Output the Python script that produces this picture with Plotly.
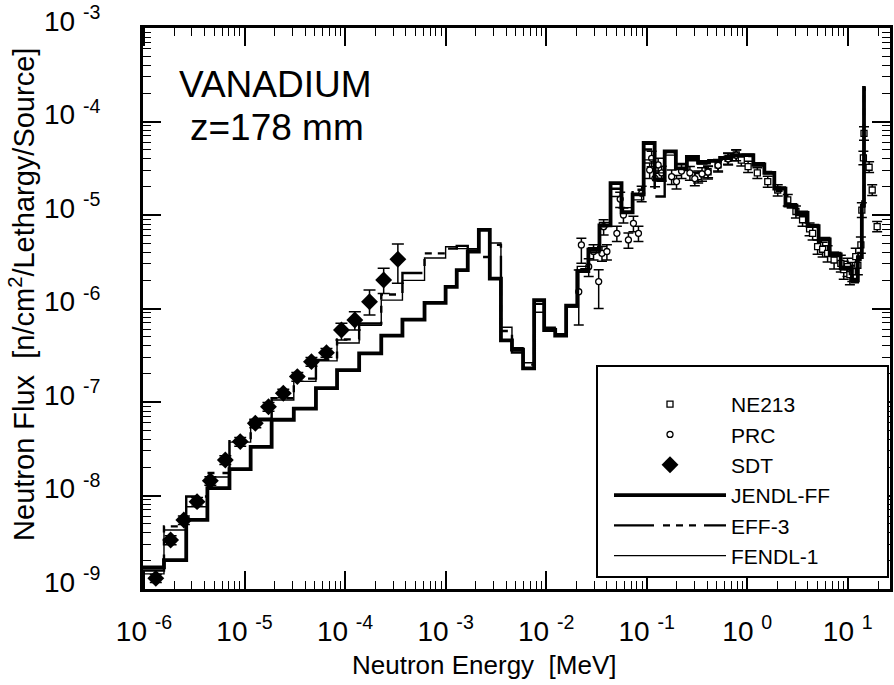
import plotly.graph_objects as go

# ---------------- data ----------------
# group-structure bin edges (MeV) of the calculated spectra
EDGES = [9.1e-7, 1.58e-6, 2.63e-6, 4.27e-6, 7.08e-6, 1.15e-5, 1.86e-5, 3.09e-5, 5.13e-5, 8.32e-5,
         1.38e-4, 2.29e-4, 3.72e-4, 6.17e-4, 1.00e-3, 1.29e-3, 1.66e-3, 2.14e-3, 2.75e-3, 3.55e-3,
         4.57e-3, 5.89e-3, 7.59e-3, 9.55e-3, 1.23e-2, 1.58e-2, 2.04e-2, 2.63e-2, 3.39e-2, 4.37e-2,
         5.62e-2, 7.24e-2, 9.33e-2, 0.120, 0.151, 0.195, 0.251, 0.324, 0.417, 0.537,
         0.692, 0.891, 1.15, 1.48, 1.86, 2.40, 3.09, 3.98, 5.13, 6.61,
         8.51, 11.0, 12.6, 13.8, 14.5, 15.1]

JENDL_FF = [1.70e-9, 2.04e-9, 5.50e-9, 1.20e-8, 1.91e-8, 3.31e-8, 6.46e-8, 8.51e-8, 1.41e-7, 2.19e-7,
            3.31e-7, 5.13e-7, 7.59e-7, 1.15e-6, 1.70e-6, 2.57e-6, 4.07e-6, 6.92e-6, 2.09e-6, 4.57e-7,
            3.63e-7, 2.29e-7, 1.23e-6, 5.89e-7, 5.13e-7, 1.07e-6, 2.51e-6, 4.27e-6, 7.76e-6, 2.19e-5,
            1.07e-5, 1.66e-5, 5.89e-5, 2.40e-5, 4.79e-5, 3.16e-5, 4.17e-5, 3.63e-5, 3.80e-5, 4.07e-5,
            4.37e-5, 4.37e-5, 3.47e-5, 2.82e-5, 1.91e-5, 1.26e-5, 1.05e-5, 7.59e-6, 5.50e-6, 3.80e-6,
            2.69e-6, 2.00e-6, 3.55e-6, 1.26e-5, 2.29e-4]

EFF_3 = [1.58e-9, 4.68e-9, 9.77e-9, 1.74e-8, 3.98e-8, 6.61e-8, 1.10e-7, 1.78e-7, 2.82e-7, 4.68e-7,
         6.92e-7, 1.41e-6, 2.40e-6, 3.89e-6, 4.37e-6, 4.68e-6, 4.17e-6, 3.55e-6, 4.79e-6, 5.75e-7,
         3.39e-7, 2.51e-7, 1.12e-6, 6.03e-7, 5.25e-7, 1.05e-6, 2.63e-6, 3.98e-6, 7.59e-6, 1.91e-5,
         1.12e-5, 1.86e-5, 5.01e-5, 1.58e-5, 4.68e-5, 3.02e-5, 3.98e-5, 3.55e-5, 3.89e-5, 4.17e-5,
         4.37e-5, 4.27e-5, 3.39e-5, 2.88e-5, 1.82e-5, 1.20e-5, 1.00e-5, 7.41e-6, 5.25e-6, 3.63e-6,
         2.63e-6, 1.91e-6, 3.31e-6, 1.12e-5, 2.19e-4]

FENDL_1 = [1.45e-9, 4.27e-9, 7.59e-9, 1.58e-8, 3.72e-8, 6.31e-8, 1.05e-7, 1.66e-7, 2.75e-7, 4.27e-7,
           6.61e-7, 1.23e-6, 2.00e-6, 3.47e-6, 4.57e-6, 4.37e-6, 4.37e-6, 6.92e-6, 5.01e-6, 6.31e-7,
           3.80e-7, 2.63e-7, 9.12e-7, 6.31e-7, 5.37e-7, 1.10e-6, 2.82e-6, 4.47e-6, 8.32e-6, 1.58e-5,
           1.20e-5, 1.45e-5, 3.89e-5, 2.82e-5, 4.37e-5, 3.55e-5, 3.80e-5, 3.80e-5, 3.72e-5, 3.98e-5,
           4.27e-5, 4.47e-5, 3.63e-5, 2.75e-5, 2.00e-5, 1.32e-5, 1.10e-5, 7.94e-6, 5.75e-6, 3.98e-6,
           2.82e-6, 2.09e-6, 3.98e-6, 1.41e-5, 2.29e-4]

# SDT measurement (diamonds)
SDT_E = [1.31e-6, 1.84e-6, 2.49e-6, 3.37e-6, 4.57e-6, 6.44e-6, 9.06e-6, 1.28e-5, 1.73e-5,
         2.43e-5, 3.35e-5, 4.63e-5, 6.53e-5, 9.20e-5, 1.25e-4, 1.75e-4, 2.42e-4, 3.35e-4]
SDT_F = [1.30e-9, 3.34e-9, 5.47e-9, 8.59e-9, 1.44e-8, 2.40e-8, 3.77e-8, 5.92e-8, 8.91e-8,
         1.24e-7, 1.87e-7, 2.70e-7, 3.37e-7, 5.89e-7, 7.53e-7, 1.18e-6, 2.02e-6, 3.36e-6]
SDT_HI = [1.43e-9, 3.70e-9, 6.05e-9, 9.50e-9, 1.59e-8, 2.66e-8, 4.17e-8, 6.55e-8, 9.85e-8,
          1.37e-7, 2.07e-7, 2.99e-7, 3.73e-7, 6.95e-7, 9.25e-7, 1.58e-6, 2.69e-6, 4.90e-6]
SDT_LO = [1.17e-9, 2.98e-9, 4.89e-9, 7.68e-9, 1.29e-8, 2.14e-8, 3.37e-8, 5.29e-8, 7.97e-8,
          1.11e-7, 1.67e-7, 2.41e-7, 3.01e-7, 4.60e-7, 5.89e-7, 8.51e-7, 1.45e-6, 1.86e-6]

# PRC measurement (small circles)
PRC_E = [2.11e-2, 2.24e-2, 2.65e-2, 2.96e-2, 3.33e-2, 3.59e-2, 3.73e-2, 4.02e-2, 5.05e-2, 5.45e-2,
         5.87e-2, 6.58e-2, 7.38e-2, 8.28e-2, 8.91e-2, 0.107, 0.112, 0.121, 0.130, 0.141,
         0.177, 0.198, 0.222, 0.269, 0.301, 0.355, 0.407, 0.513, 0.646, 0.776]
PRC_F = [1.51e-6, 4.78e-6, 2.80e-6, 4.07e-6, 1.94e-6, 3.89e-6, 7.50e-6, 4.07e-6, 6.37e-6, 1.48e-5,
         1.00e-5, 5.41e-6, 8.15e-6, 6.37e-6, 1.71e-5, 3.03e-5, 4.04e-5, 2.47e-5, 3.43e-5, 2.82e-5,
         2.57e-5, 2.28e-5, 2.95e-5, 2.82e-5, 2.45e-5, 2.75e-5, 2.88e-5, 3.39e-5, 3.98e-5, 4.37e-5]
PRC_HI = [2.58e-6, 5.64e-6, 3.40e-6, 4.80e-6, 2.60e-6, 4.60e-6, 8.90e-6, 4.80e-6, 7.60e-6, 1.75e-5,
          1.19e-5, 6.40e-6, 9.70e-6, 7.60e-6, 2.03e-5, 3.60e-5, 4.80e-5, 2.95e-5, 4.05e-5, 3.33e-5,
          3.03e-5, 2.65e-5, 3.45e-5, 3.30e-5, 2.86e-5, 3.20e-5, 3.35e-5, 3.90e-5, 4.55e-5, 4.95e-5]
PRC_LO = [6.67e-7, 3.04e-6, 2.20e-6, 3.30e-6, 1.00e-6, 3.20e-6, 6.10e-6, 3.30e-6, 5.20e-6, 1.20e-5,
          8.20e-6, 4.40e-6, 6.60e-6, 5.20e-6, 1.39e-5, 2.46e-5, 3.28e-5, 2.00e-5, 2.80e-5, 2.30e-5,
          2.12e-5, 1.90e-5, 2.45e-5, 2.35e-5, 2.05e-5, 2.30e-5, 2.42e-5, 2.88e-5, 3.42e-5, 3.80e-5]

# NE213 measurement (small squares)
NE_E = [0.325, 0.408, 0.513, 0.644, 0.778, 0.873, 1.02, 1.26, 1.60, 2.01,
        2.53, 3.05, 3.55, 4.17, 4.47, 5.01, 5.62, 6.30, 7.31, 8.53,
        9.12, 9.93, 10.5, 11.1, 12.0, 12.6, 13.5, 13.8, 14.3, 14.5,
        16.3, 17.5, 19.6]
NE_F = [2.57e-5, 2.90e-5, 3.43e-5, 4.04e-5, 4.39e-5, 3.87e-5, 3.29e-5, 2.82e-5, 2.28e-5, 1.85e-5,
        1.45e-5, 1.09e-5, 8.90e-6, 7.10e-6, 6.37e-6, 4.58e-6, 4.30e-6, 3.89e-6, 3.30e-6, 3.04e-6,
        2.60e-6, 2.80e-6, 2.30e-6, 2.48e-6, 3.58e-6, 2.90e-6, 4.78e-6, 1.13e-5, 4.09e-5, 7.48e-5,
        3.24e-5, 1.85e-5, 7.50e-6]
NE_HI = [2.95e-5, 3.30e-5, 3.90e-5, 4.60e-5, 5.00e-5, 4.40e-5, 3.75e-5, 3.20e-5, 2.60e-5, 2.10e-5,
         1.66e-5, 1.25e-5, 1.02e-5, 8.20e-6, 7.40e-6, 5.40e-6, 5.10e-6, 4.70e-6, 4.00e-6, 3.70e-6,
         3.20e-6, 3.45e-6, 2.90e-6, 3.10e-6, 4.40e-6, 3.60e-6, 5.80e-6, 1.35e-5, 4.80e-5, 8.80e-5,
         3.70e-5, 2.10e-5, 8.50e-6]
NE_LO = [2.20e-5, 2.50e-5, 2.95e-5, 3.50e-5, 3.80e-5, 3.35e-5, 2.85e-5, 2.45e-5, 1.98e-5, 1.60e-5,
         1.25e-5, 9.30e-6, 7.60e-6, 6.00e-6, 5.40e-6, 3.80e-6, 3.55e-6, 3.15e-6, 2.65e-6, 2.45e-6,
         2.05e-6, 2.20e-6, 1.80e-6, 1.95e-6, 2.85e-6, 2.30e-6, 3.90e-6, 9.40e-6, 3.45e-5, 6.30e-5,
         2.85e-5, 1.62e-5, 6.60e-6]

X_TICKVALS = [1e-6, 1e-5, 1e-4, 1e-3, 1e-2, 1e-1, 1e0, 1e1]
X_TICKTEXT = ["10 <sup>-6</sup>", "10 <sup>-5</sup>", "10 <sup>-4</sup>", "10 <sup>-3</sup>",
              "10 <sup>-2</sup>", "10 <sup>-1</sup>", "10 <sup>0</sup>", "10 <sup>1</sup>"]
Y_TICKVALS = [1e-9, 1e-8, 1e-7, 1e-6, 1e-5, 1e-4, 1e-3]
Y_TICKTEXT = ["10 <sup>-9</sup>", "10 <sup>-8</sup>", "10 <sup>-7</sup>", "10 <sup>-6</sup>",
              "10 <sup>-5</sup>", "10 <sup>-4</sup>", "10 <sup>-3</sup>"]

FONT = "Liberation Sans, Arial, Helvetica, sans-serif"


def steps(edges, vals):
    xs, ys = [], []
    for i, v in enumerate(vals):
        xs += [edges[i], edges[i + 1]]
        ys += [v, v]
    return xs, ys


def errs(v, hi, lo):
    return ([h - a for a, h in zip(v, hi)], [a - l for a, l in zip(v, lo)])


fig = go.Figure()

# measurements
up, dn = errs(NE_F, NE_HI, NE_LO)
fig.add_trace(go.Scatter(
    x=NE_E, y=NE_F, mode="markers", name="NE213",
    marker=dict(symbol="square", size=6, color="white", line=dict(color="black", width=1.3)),
    error_y=dict(type="data", symmetric=False, array=up, arrayminus=dn,
                 color="black", thickness=1.5, width=5)))

up, dn = errs(PRC_F, PRC_HI, PRC_LO)
fig.add_trace(go.Scatter(
    x=PRC_E, y=PRC_F, mode="markers", name="PRC",
    marker=dict(symbol="circle", size=6, color="white", line=dict(color="black", width=1.3)),
    error_y=dict(type="data", symmetric=False, array=up, arrayminus=dn,
                 color="black", thickness=1.5, width=5)))

up, dn = errs(SDT_F, SDT_HI, SDT_LO)
fig.add_trace(go.Scatter(
    x=SDT_E, y=SDT_F, mode="markers", name="SDT",
    marker=dict(symbol="diamond", size=13, color="black"),
    error_y=dict(type="data", symmetric=False, array=up, arrayminus=dn,
                 color="black", thickness=1.5, width=6)))

# calculations
xs, ys = steps(EDGES, JENDL_FF)
fig.add_trace(go.Scatter(x=xs, y=ys, mode="lines", name="JENDL-FF",
                         line=dict(color="black", width=3.8)))
xs, ys = steps(EDGES, EFF_3)
fig.add_trace(go.Scatter(x=xs, y=ys, mode="lines", name="EFF-3",
                         line=dict(color="black", width=2.4,
                                   dash="40px,9px,7px,6px,7px,6px,7px,8px")))
xs, ys = steps(EDGES, FENDL_1)
fig.add_trace(go.Scatter(x=xs, y=ys, mode="lines", name="FENDL-1",
                         line=dict(color="black", width=1.4)))

minor_x = [m * 10.0 ** k for k in range(-7, 2) for m in range(2, 10)]
minor_y = [m * 10.0 ** k for k in range(-10, -2) for m in range(2, 10)]

axis_common = dict(
    showline=True, linecolor="black", linewidth=3, mirror="ticks",
    ticks="inside", ticklen=18, tickwidth=1.5, tickcolor="black",
    showgrid=False, zeroline=False, ticklabeloverflow="allow", automargin=False,
    tickfont=dict(family=FONT, size=28, color="black"),
)

fig.update_xaxes(type="log", range=[-6.01, 1.42], tickmode="array",
                 tickvals=X_TICKVALS, ticktext=X_TICKTEXT, ticklabelstandoff=15,
                 minor=dict(tickmode="array", tickvals=minor_x, ticks="inside",
                            ticklen=8, tickwidth=1.2, tickcolor="black", showgrid=False),
                 **axis_common)
fig.update_yaxes(type="log", range=[-9, -3], tickmode="array",
                 tickvals=Y_TICKVALS, ticktext=Y_TICKTEXT, ticklabelstandoff=34,
                 ticklabelshift=-7,
                 minor=dict(tickmode="array", tickvals=minor_y, ticks="inside",
                            ticklen=8, tickwidth=1.2, tickcolor="black", showgrid=False),
                 **axis_common)

fig.add_annotation(text="VANADIUM", xref="paper", yref="paper", x=0.046, y=0.900,
                   xanchor="left", yanchor="middle", showarrow=False,
                   font=dict(family=FONT, size=37, color="black"))
fig.add_annotation(text="z=178 mm", xref="paper", yref="paper", x=0.060, y=0.823,
                   xanchor="left", yanchor="middle", showarrow=False,
                   font=dict(family=FONT, size=37, color="black"))
fig.add_annotation(text="Neutron Energy\u00a0\u00a0[MeV]", xref="paper", yref="paper",
                   x=0.4565, y=-0.136, xanchor="center", yanchor="middle", showarrow=False,
                   font=dict(family=FONT, size=26, color="black"))
fig.add_annotation(text="Neutron Flux\u00a0\u00a0[n/cm<sup>2</sup>/Lethargy/Source]",
                   xref="paper", yref="paper", x=-0.162, y=0.526, textangle=-90,
                   xanchor="center", yanchor="middle", showarrow=False,
                   font=dict(family=FONT, size=29, color="black"))

# legend frame
fig.add_shape(type="rect", xref="paper", yref="paper",
              x0=(597 - 143) / 747, x1=(888 - 143) / 747,
              y0=(589 - 577) / 561, y1=(589 - 366) / 561,
              line=dict(color="black", width=2), fillcolor="white", layer="above")

fig.update_layout(
    width=894, height=685,
    margin=dict(l=143, r=4, t=28, b=96, autoexpand=False),
    paper_bgcolor="white", plot_bgcolor="white",
    showlegend=True,
    legend=dict(x=(609 - 143) / 747, y=(589 - 384) / 561, xanchor="left", yanchor="top",
                bgcolor="rgba(0,0,0,0)", borderwidth=0,
                font=dict(family=FONT, size=21, color="black"),
                itemwidth=112, tracegroupgap=0),
)

fig.write_html("out.html")
